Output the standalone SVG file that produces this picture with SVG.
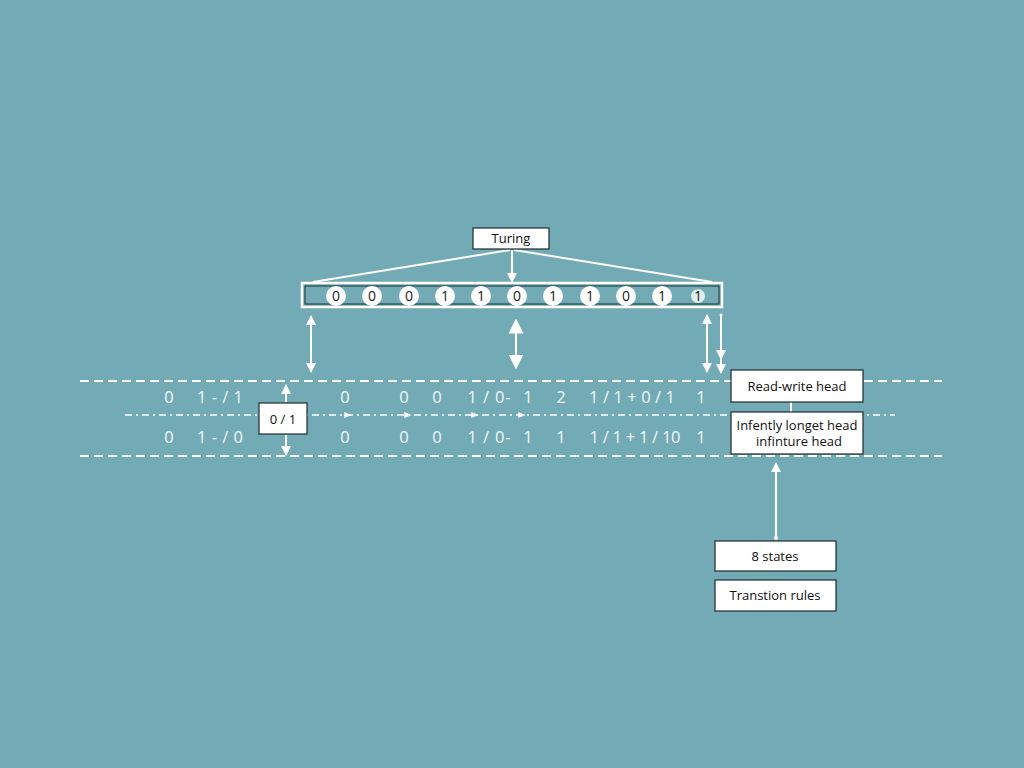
<svg xmlns="http://www.w3.org/2000/svg" width="1024" height="768" viewBox="0 0 1024 768">
<style>
.box{fill:#ffffff;stroke:#1c2a2e;stroke-width:1.2}
.lbl{font-family:"Open Sans","Liberation Sans",sans-serif;font-size:13px;fill:#111;text-anchor:middle}
.row{font-family:"Open Sans","DejaVu Sans",sans-serif;font-size:16.5px;font-weight:500;fill:#f2f6f7;text-anchor:middle}
.ln{stroke:#ffffff;stroke-width:2;fill:none}
.dash{stroke:#ffffff;stroke-width:2;stroke-dasharray:9 5;fill:none}
.dash2{stroke:#ffffff;stroke-width:1.5;stroke-dasharray:7 4 2 4;fill:none}
.cell{fill:#ffffff}
.ct{font-family:"Open Sans","DejaVu Sans",sans-serif;font-size:14px;font-weight:500;fill:#1a1a1a;text-anchor:middle}
</style>
<defs>
<marker id="ah" viewBox="0 0 10 10" refX="9" refY="5" markerWidth="5" markerHeight="5" orient="auto-start-reverse">
<path d="M0,0 L10,5 L0,10 z" fill="#ffffff"/>
</marker>
<marker id="ahb" viewBox="0 0 10 10" refX="9" refY="5" markerWidth="7.5" markerHeight="7.5" orient="auto-start-reverse">
<path d="M0,0 L10,5 L0,10 z" fill="#ffffff"/>
</marker>
<marker id="tri" viewBox="0 0 10 10" refX="5" refY="5" markerWidth="5" markerHeight="5" orient="auto">
<path d="M0,1 L10,5 L0,9 z" fill="#ffffff"/>
</marker>
</defs>
<rect x="0" y="0" width="1024" height="768" fill="#72abb5"/>

<g id="connectors">
<line class="ln" x1="510" y1="250" x2="313" y2="282"/>
<line class="ln" x1="514" y1="250" x2="712" y2="282"/>
<line class="ln" x1="512" y1="250" x2="512" y2="282" marker-end="url(#ah)"/>
<line class="ln" x1="311" y1="316" x2="311" y2="372" marker-start="url(#ah)" marker-end="url(#ah)"/>
<line class="ln" x1="516" y1="320" x2="516" y2="368" marker-start="url(#ahb)" marker-end="url(#ahb)"/>
<line class="ln" x1="707" y1="315" x2="707" y2="372" marker-start="url(#ah)" marker-end="url(#ah)"/>
<line class="ln" x1="721" y1="315" x2="721" y2="359" marker-end="url(#ah)"/>
<line class="ln" x1="721" y1="359" x2="721" y2="373" marker-end="url(#ah)"/>
<circle cx="721" cy="315" r="1.5" fill="#fff"/>
<line class="dash" x1="80" y1="381" x2="942" y2="381"/>
<line class="dash" x1="80" y1="456" x2="942" y2="456"/>
<polyline class="dash2" points="125,415 348,415 408,415 475,415 522,415 895,415" marker-mid="url(#tri)"/>
<line class="ln" x1="286" y1="402" x2="286" y2="385" marker-end="url(#ah)"/>
<line class="ln" x1="286" y1="435" x2="286" y2="455" marker-end="url(#ah)"/>
<line class="ln" x1="791" y1="402" x2="791" y2="412"/>
<line class="ln" x1="776" y1="538" x2="776" y2="463" marker-end="url(#ah)"/>
<circle cx="776" cy="538" r="2" fill="#fff"/>
</g>

<g id="turing">
<rect class="box" x="473" y="228" width="76" height="21"/>
<text class="lbl" x="511" y="243">Turing</text>
</g>

<g id="tape">
<rect x="302" y="283" width="420" height="24" fill="none" stroke="#fff" stroke-width="2.5"/>
<rect x="305" y="286" width="414" height="18" fill="none" stroke="#1e3338" stroke-width="1"/>
<circle class="cell" cx="336" cy="296" r="10"/><text class="ct" x="336" y="301">0</text>
<circle class="cell" cx="372" cy="296" r="10"/><text class="ct" x="372" y="301">0</text>
<circle class="cell" cx="409" cy="296" r="10"/><text class="ct" x="409" y="301">0</text>
<circle class="cell" cx="445" cy="296" r="10"/><text class="ct" x="445" y="301">1</text>
<circle class="cell" cx="481" cy="296" r="10"/><text class="ct" x="481" y="301">1</text>
<circle class="cell" cx="517" cy="296" r="10"/><text class="ct" x="517" y="301">0</text>
<circle class="cell" cx="553" cy="296" r="10"/><text class="ct" x="553" y="301">1</text>
<circle class="cell" cx="590" cy="296" r="10"/><text class="ct" x="590" y="301">1</text>
<circle class="cell" cx="626" cy="296" r="10"/><text class="ct" x="626" y="301">0</text>
<circle class="cell" cx="662" cy="296" r="10"/><text class="ct" x="662" y="301">1</text>
<circle cx="698" cy="296" r="7" fill="#dfeeee"/><text class="ct" x="698" y="301" fill="#6a8c90">1</text>
</g>

<g id="row-top">
<text class="row" x="169" y="403">0</text>
<text class="row" x="220" y="403" textLength="46" lengthAdjust="spacing">1 - / 1</text>
<text class="row" x="345" y="403">0</text>
<text class="row" x="404" y="403">0</text>
<text class="row" x="437" y="403">0</text>
<text class="row" x="489" y="403" textLength="43" lengthAdjust="spacing">1 / 0-</text>
<text class="row" x="528" y="403">1</text>
<text class="row" x="561" y="403">2</text>
<text class="row" x="632" y="403" textLength="86" lengthAdjust="spacing">1 / 1 + 0 / 1</text>
<text class="row" x="701" y="403">1</text>
</g>

<g id="row-bottom">
<text class="row" x="169" y="443">0</text>
<text class="row" x="220" y="443" textLength="46" lengthAdjust="spacing">1 - / 0</text>
<text class="row" x="345" y="443">0</text>
<text class="row" x="404" y="443">0</text>
<text class="row" x="437" y="443">0</text>
<text class="row" x="489" y="443" textLength="43" lengthAdjust="spacing">1 / 0-</text>
<text class="row" x="528" y="443">1</text>
<text class="row" x="561" y="443">1</text>
<text class="row" x="635" y="443" textLength="91" lengthAdjust="spacing">1 / 1 + 1 / 10</text>
<text class="row" x="701" y="443">1</text>
</g>

<g id="state-box">
<rect class="box" x="259" y="403" width="48" height="31"/>
<text class="lbl" x="283" y="424" font-size="15">0 / 1</text>
</g>

<g id="read-write-head">
<rect class="box" x="731" y="370" width="132" height="32"/>
<text class="lbl" x="797" y="391">Read-write head</text>
</g>

<g id="infinite-head">
<rect class="box" x="731" y="412" width="132" height="42"/>
<text class="lbl" x="797" y="430" font-size="12.5">Infently longet head</text>
<text class="lbl" x="799" y="446" font-size="12.5">infinture head</text>
</g>

<g id="states">
<rect class="box" x="715" y="541" width="121" height="30"/>
<text class="lbl" x="775" y="561">8 states</text>
</g>

<g id="rules">
<rect class="box" x="715" y="580" width="121" height="31"/>
<text class="lbl" x="775" y="600">Transtion rules</text>
</g>
</svg>
